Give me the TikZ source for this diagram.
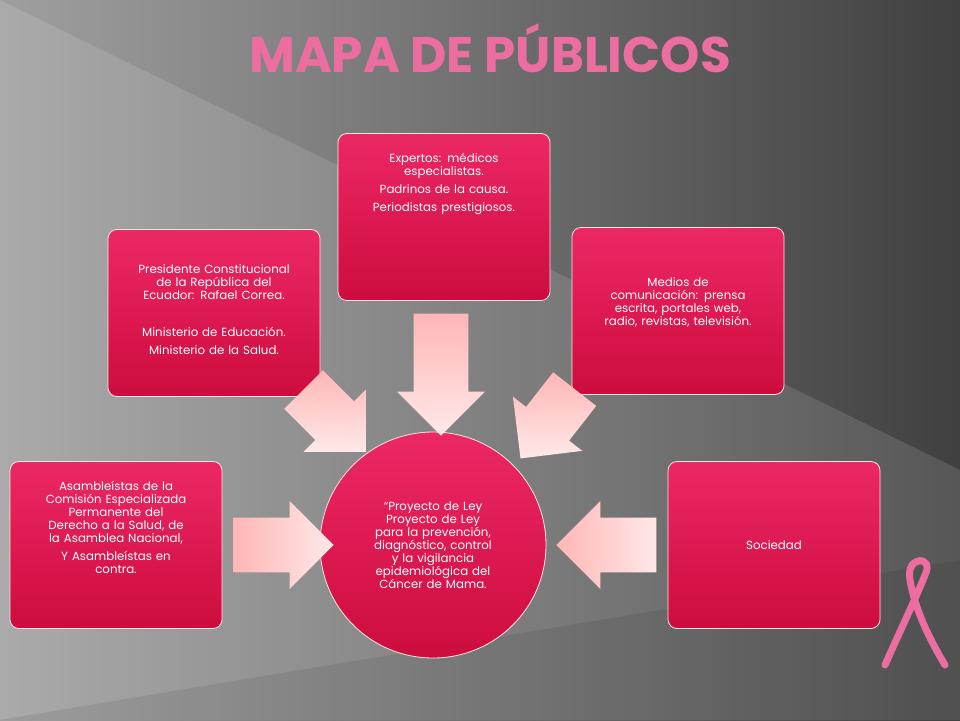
\documentclass[tikz,border=0pt]{standalone}
\usepackage{fontspec}
\setmainfont{Poppins}
\usetikzlibrary{arrows.meta, positioning, shapes.arrows}
\definecolor{rosaclaro}{RGB}{236,40,100}
\definecolor{rosaoscuro}{RGB}{205,12,62}
\definecolor{titulorosa}{RGB}{236,110,160}

\begin{document}
\begin{tikzpicture}[x=1pt, y=-1pt]
        \tikzset{
          pubbox/.style={rounded corners=9pt, draw=white!60!pink, line width=0.8pt,
            top color=rosaclaro, bottom color=rosaoscuro,
            minimum width=212pt, minimum height=167pt},
          pubtext/.style={text=white, align=center, text width=208pt, anchor=north,
            font=\fontsize{11.8}{13}\selectfont},
          flecha/.style={single arrow, draw=none, top color=pink!95!red, bottom color=pink!35,
            minimum width=88pt, single arrow head extend=16pt, single arrow head indent=0pt,
            inner sep=0pt, shading angle=0}
        }

        % Background
        \useasboundingbox (0,0) rectangle (960,720);
        \shade[left color=gray!75, right color=black!75] (0,0) rectangle (960,720);
        \fill[white, opacity=0.12] (0,0) -- (960,470) -- (960,720) -- (0,720) -- cycle;
        \fill[black, opacity=0.08] (0,720) -- (960,560) -- (960,720) -- cycle;

        % Title
        \node[text=titulorosa, font=\bfseries\fontsize{50}{50}\selectfont] (titulo) at (490,48) {MAPA DE PÚBLICOS};

        % Center
        \node[circle, draw=white!60!pink, line width=0.8pt, minimum size=226pt,
          top color=rosaclaro, bottom color=rosaoscuro, text=white, align=center,
          text width=155pt, font=\fontsize{11.8}{13}\selectfont] (centro) at (433,545)
          {“Proyecto de Ley\\ Proyecto de Ley\\ para la prevención,\\ diagnóstico, control\\ y la vigilancia\\ epidemiológica del\\ Cáncer de Mama.};

        % Boxes
        \node[pubbox] (asamblea) at (116,545) {};
        \node[pubbox] (gobierno) at (214,313) {};
        \node[pubbox] (expertos) at (444,217) {};
        \node[pubbox] (medios) at (678,311) {};
        \node[pubbox] (sociedad) at (774,545) {};

        \node[pubtext] (tasamblea) at ([yshift=-17pt]asamblea.north) {Asambleístas de la\\ Comisión Especializada\\ Permanente del\\ Derecho a la Salud, de\\ la Asamblea Nacional,\\[5pt] Y Asambleístas en\\ contra.};
        \node[pubtext] (tgobierno) at ([yshift=-32pt]gobierno.north) {Presidente Constitucional\\ de la República del\\ Ecuador: Rafael Correa.\\[24pt] Ministerio de Educación.\\[5pt] Ministerio de la Salud.};
        \node[pubtext] (texpertos) at ([yshift=-17pt]expertos.north) {Expertos: médicos\\ especialistas.\\[5pt] Padrinos de la causa.\\[5pt] Periodistas prestigiosos.};
        \node[pubtext] (tmedios) at ([yshift=-47pt]medios.north) {Medios de\\ comunicación: prensa\\ escrita, portales web,\\ radio, revistas, televisión.};
        \node[pubtext, anchor=center] (tsociedad) at (sociedad) {Sociedad};

        % Arrows
        \node[flecha, minimum height=100pt, shading angle=90] (f1) at (270,545) {\rule{0pt}{52pt}};
        \node[flecha, minimum height=88pt, rotate=-45] (f2) at (325,411) {\rule{0pt}{52pt}};
        \node[flecha, minimum height=122pt, rotate=-90] (f3) at (441,361) {\rule{0pt}{52pt}};
        \node[flecha, minimum height=88pt, rotate=-128] (f4) at (556,413) {\rule{0pt}{52pt}};
        \node[flecha, minimum height=100pt, rotate=180, shading angle=90] (f5) at (620,545) {\rule{0pt}{52pt}};

        % Ribbon
        \draw[titulorosa, line width=7pt, line cap=round, line join=round]
          (885,665) .. controls (905,620) and (915,600) .. (925,575)
          .. controls (935,555) and (905,555) .. (910,580)
          .. controls (915,610) and (930,640) .. (945,665);
\end{tikzpicture}
\end{document}
